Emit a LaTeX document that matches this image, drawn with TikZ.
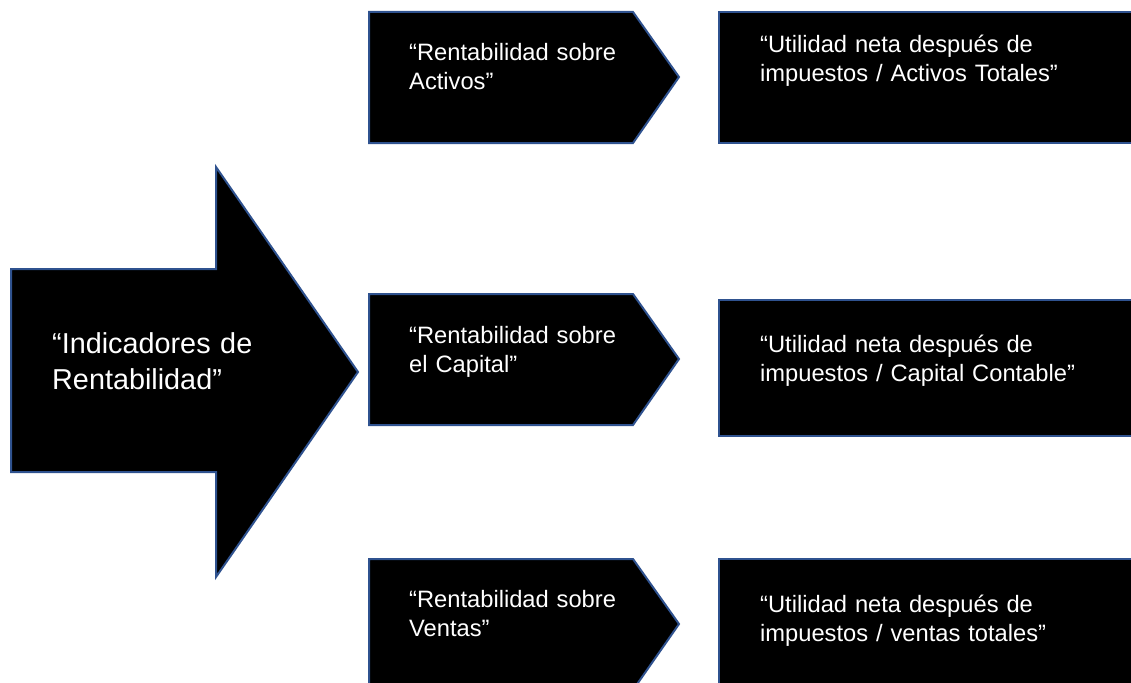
\documentclass[tikz,border=0pt]{standalone}
\usepackage{fontspec}
\setmainfont{Liberation Sans}
\definecolor{edgeblue}{HTML}{2F528F}
\begin{document}
\begin{tikzpicture}[x=1pt,y=-1pt,
  shapeline/.style={draw=edgeblue, line width=2pt, fill=black, line join=miter},
  lbl/.style={text=white, anchor=base west, inner sep=0pt, text width=340pt, align=left, font=\fontsize{23.7}{29}\selectfont},
  biglbl/.style={lbl, font=\fontsize{28.8}{36}\selectfont}]
\useasboundingbox (0,0) rectangle (1131,682);
\clip (0,0) rectangle (1131,682);
% big arrow
\path[shapeline] (11,269) -- (216,269) -- (216,167) -- (358,372) -- (216,577) -- (216,472) -- (11,472) -- cycle;
\node[biglbl] (main) at (52,353) {“Indicadores de\\Rentabilidad”};
% pentagons
\path[shapeline] (369,12) -- (633,12) -- (679,77) -- (633,143) -- (369,143) -- cycle;
\path[shapeline] (369,294) -- (633,294) -- (679,359) -- (633,425) -- (369,425) -- cycle;
\path[shapeline] (369,559) -- (633,559) -- (679,624) -- (633,690) -- (369,690) -- cycle;
\node[lbl] (ra) at (409,61) {“Rentabilidad sobre\\Activos”};
\node[lbl] (rc) at (409,343) {“Rentabilidad sobre\\el Capital”};
\node[lbl] (rv) at (409,607) {“Rentabilidad sobre\\Ventas”};
% boxes
\path[shapeline] (719,12) rectangle (1145,143);
\path[shapeline] (719,300) rectangle (1145,436);
\path[shapeline] (719,559) rectangle (1145,700);
\node[lbl] (ua) at (760,53) {“Utilidad neta después de\\impuestos / Activos Totales”};
\node[lbl] (uc) at (760,352) {“Utilidad neta después de\\impuestos / Capital Contable”};
\node[lbl] (uv) at (760,612) {“Utilidad neta después de\\impuestos / ventas totales”};
\end{tikzpicture}
\end{document}
